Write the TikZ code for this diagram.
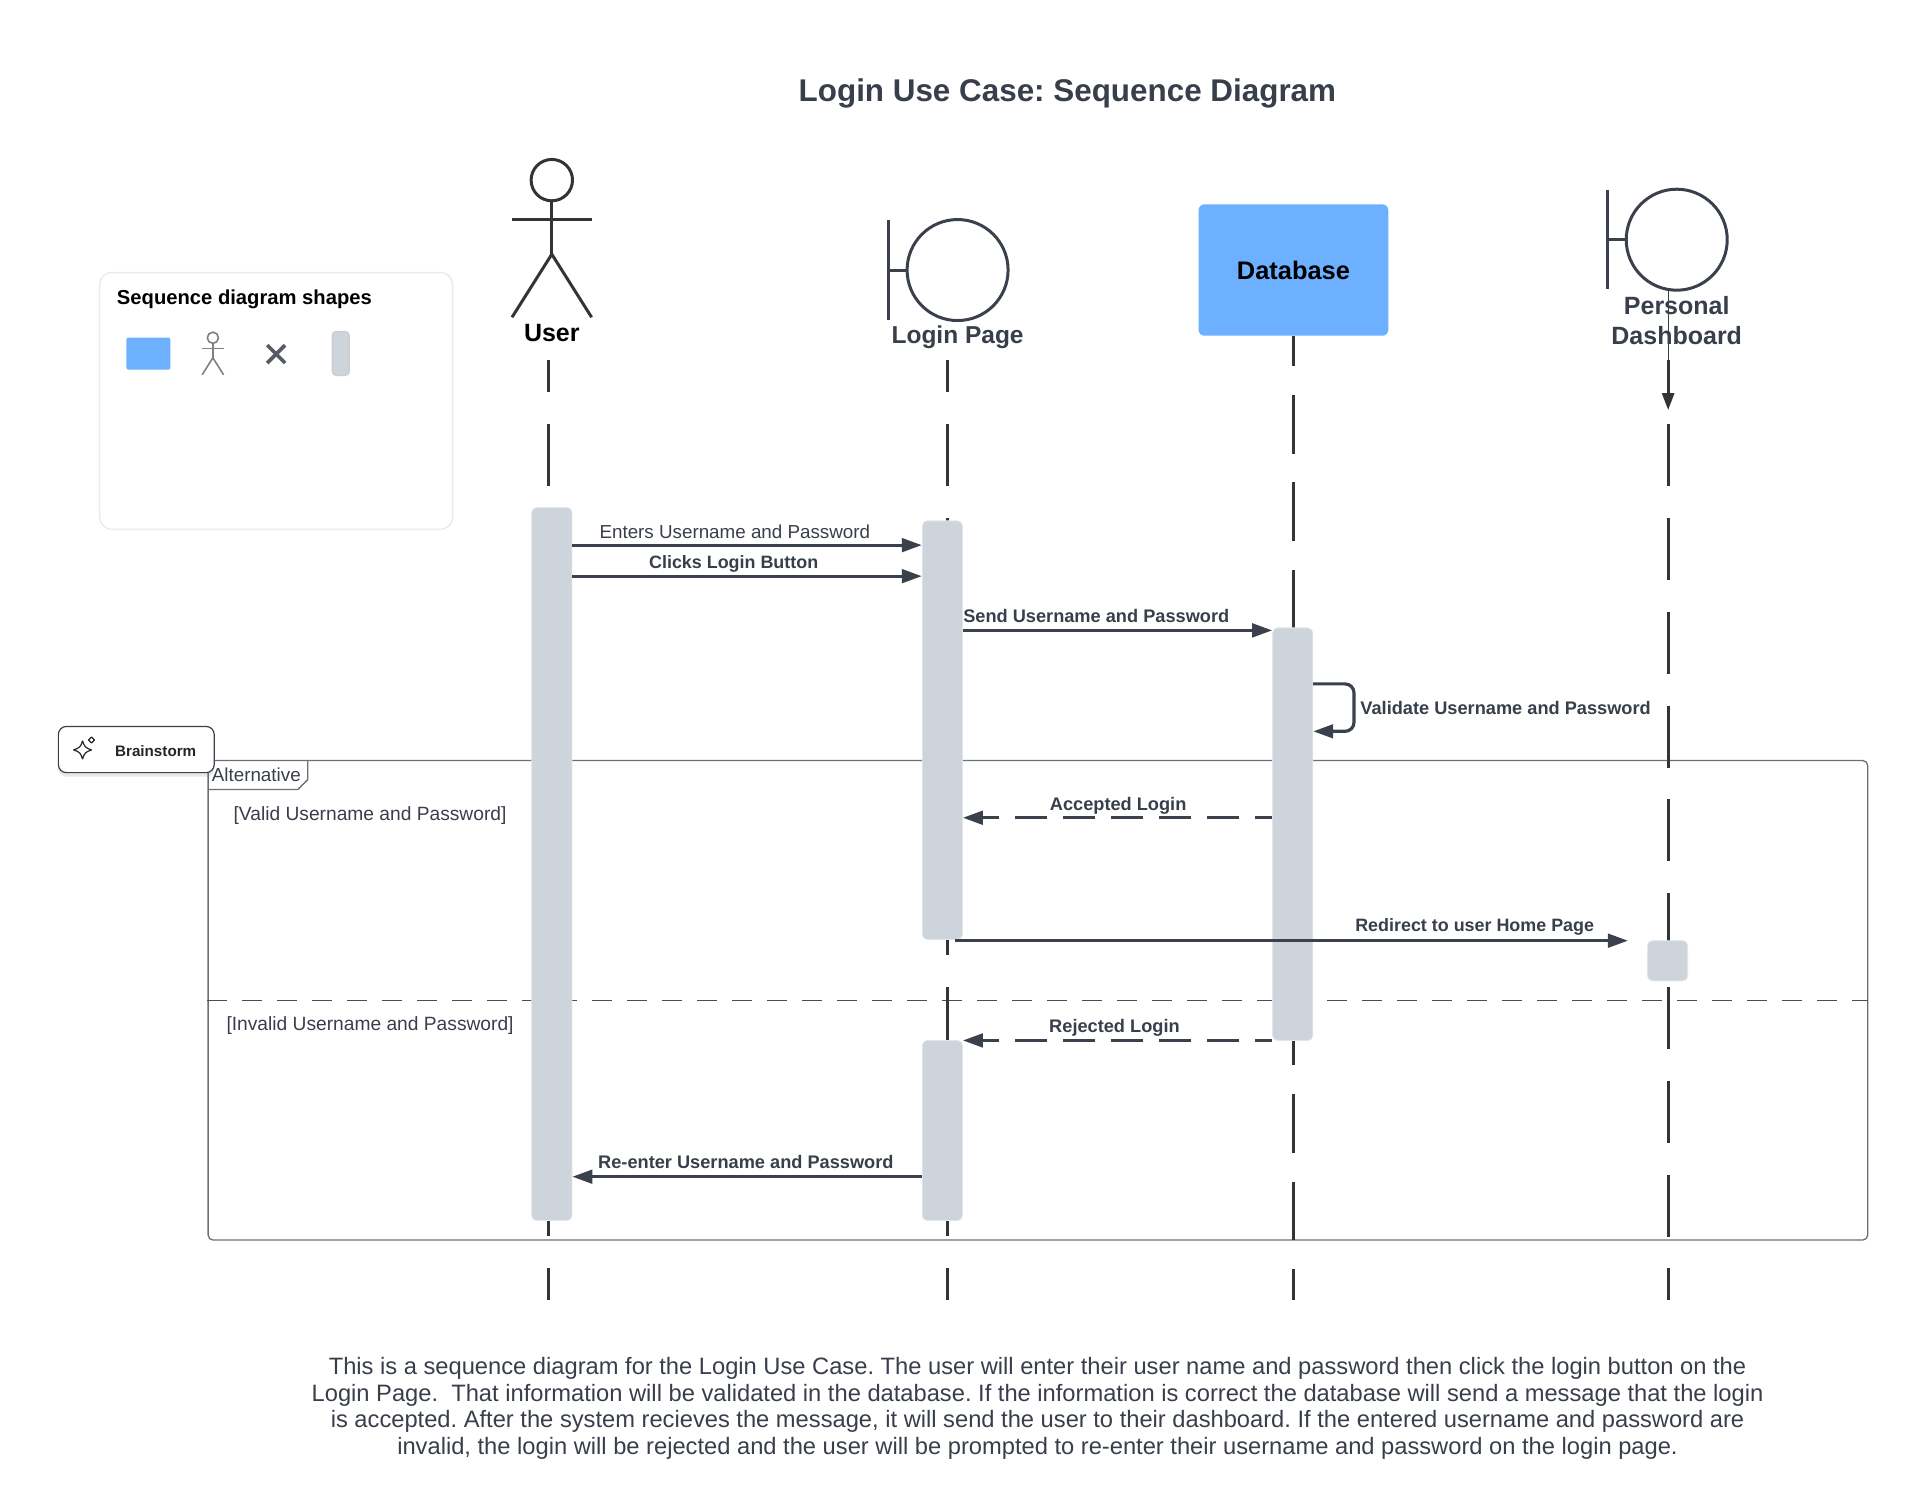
\documentclass[tikz,border=0pt]{standalone}
\usepackage{fontspec}
\setmainfont{Liberation Sans}
\usepackage{tikz}
\usetikzlibrary{arrows.meta,shadows}
\definecolor{InkDark}{HTML}{3A404C}
\definecolor{InkLine}{HTML}{333438}
\definecolor{InkText}{HTML}{383E4A}
\definecolor{FrameGrey}{HTML}{6A7078}
\definecolor{BarGrey}{HTML}{CED4DC}
\definecolor{BlueBox}{HTML}{6CB0FF}
\frenchspacing
\newcommand\fsize[1]{\fontsize{#1}{#1}\selectfont}
\newcommand\actbar[4]{% name, x, top, bottom
  \node[activ,minimum height={(#4-#3)*0.9946}] (#1) at (#2,{(#3+#4)/2}) {};
}
\newcommand\sendmsg[4]{% style, a, b, y
  \draw[#1] (#2 |- 0,#4) -- (#3 |- 0,#4);
}
\newcommand\boundary[3]{% name, circle x, circle y
  \node[circle,draw=InkDark,line width=3,minimum size=101,inner sep=0] (#1) at (#2,#3) {};
  \coordinate (#1_bartop) at (#2-69.8,#3-50);
  \coordinate (#1_barbot) at (#2-69.8,#3+50);
  \coordinate (#1_stub) at (#2-69.8,#3);
  \draw[line width=3,color=InkDark] (#1_bartop) -- (#1_barbot);
  \draw[line width=3,color=InkDark] (#1_stub) -- (#1.west);
}
\newcommand\stickman[5]{% x, top, scale, colour, width
  \begin{scope}[shift={(#1,#2)},scale=#3,line width=#5,color=#4]
    \draw (0,20.8) circle (20.8);
    \draw (0,41.6) -- (0,95.3);
    \draw (-40,60) -- (40,60);
    \draw (-40,158.7) -- (0,95.3) -- (40,158.7);
  \end{scope}
}

\begin{document}
\begin{tikzpicture}[x=0.9948pt,y=-0.9946pt]
		\tikzstyle{every path}=[line join=round]
		\tikzstyle{activ}=[rectangle,rounded corners=5,fill=BarGrey,draw=BarGrey!60!white,line width=0.8,minimum width=40.2,inner sep=0]
		\tikzstyle{msgsolid}=[-{Triangle[length=20,width=13.5]},line width=3.2,color=InkDark]
		\tikzstyle{msgdash}=[msgsolid,dash pattern=on 32 off 16,dash phase=14.3]
		\tikzstyle{lifeline}=[line width=2.8,color=InkLine]
		\tikzstyle{boldlabel}=[font=\fsize{18.2}\bfseries,text=InkText,inner sep=0]
		\tikzstyle{plainlabel}=[font=\fsize{18.8},text=InkText,inner sep=0]
		\tikzstyle{headlabel}=[font=\fsize{25}\bfseries,inner sep=0,align=center]

\useasboundingbox (0,0) rectangle (1918,1519.2);

\node[font=\fsize{31.4}\bfseries,text=InkText,inner sep=0] (title) at (1073,94) {Login Use Case: Sequence Diagram};

\node[rectangle,rounded corners=12,fill=white,draw=black!8,line width=1.5,minimum width=352.9,minimum height=256.8] (legend) at (277.6,403.1) {};
\node[font=\fsize{20.2}\bfseries,text=black,inner sep=0,anchor=west] (legend_title) at (117.4,300.5) {Sequence diagram shapes};
\node[rectangle,rounded corners=2,fill=BlueBox,minimum width=44,minimum height=32,inner sep=0] (legend_box) at (149.2,355.5) {};
\stickman{214}{334}{0.27}{black!50}{1.6}
\coordinate (legend_xa) at (268.6,347);
\coordinate (legend_xb) at (286.6,365);
\coordinate (legend_xc) at (286.6,347);
\coordinate (legend_xd) at (268.6,365);
\draw[line width=3.6,color=InkText!85] (legend_xa) -- (legend_xb);
\draw[line width=3.6,color=InkText!85] (legend_xc) -- (legend_xd);
\node[rectangle,rounded corners=4,fill=BarGrey,draw=black!20,line width=1.2,minimum width=17,minimum height=44,inner sep=0] (legend_bar) at (342.5,355.4) {};

\node[rectangle,rounded corners=5,draw=FrameGrey,line width=1.3,minimum width=1659.6,minimum height=479.5,inner sep=0] (alt_frame) at (1043.35,1005.75) {};
\coordinate (tab_a) at (209.2,793.8);
\coordinate (tab_b) at (299.4,793.8);
\coordinate (tab_c) at (309.4,783.8);
\coordinate (tab_d) at (309.4,764.7);
\draw[color=FrameGrey,line width=1.3] (tab_a) -- (tab_b) -- (tab_c) -- (tab_d);
\draw[color=FrameGrey!70!black,line width=1.1,dash pattern=on 20 off 15] (alt_frame.west |- 0,1005.7) -- (alt_frame.east |- 0,1005.7);
\node[plainlabel,anchor=west] (alt_label) at (212.8,779.4) {Alternative};
\node[plainlabel,font=\fsize{19.2}] (guard_valid) at (372,819.5) {[Valid Username and Password]};
\node[plainlabel,font=\fsize{19.2}] (guard_invalid) at (372,1031) {[Invalid Username and Password]};

\foreach \name/\xpos/\ytop/\don/\doff/\dph in {user/551/362/62/31.8/29.8,login/952.8/362/62/31.8/29.8,db/1300/337.6/58.7/28.7/28.2,pd/1676.9/426.4/62/31.8/0}
{
  \coordinate (ll_\name_top) at (\xpos,\ytop);
  \coordinate (ll_\name_bot) at (\xpos,1306.7);
  \draw[lifeline,dash pattern=on \don off \doff,dash phase=\dph] (ll_\name_top) -- (ll_\name_bot);
}

\stickman{554.7}{160.3}{1}{InkLine}{3}
\node[headlabel,text=black] (user_label) at (554.7,335) {User};

\boundary{login_head}{962.6}{271.5}
\node[headlabel,text=InkText,font=\fsize{24.5}\bfseries] (login_label) at (962.6,339) {Login Page};

\node[rectangle,rounded corners=6,fill=BlueBox,minimum width=189.8,minimum height=131.4,inner sep=0,font=\fsize{25.4}\bfseries,text=black] (db_box) at (1300.2,271.5) {Database};

\boundary{pd_head}{1685.5}{241}
\node[headlabel,text=InkText] (pd_label) at (1685.5,322.3) {Personal\\[4.4pt]Dashboard};
\coordinate (pd_thin) at (1676.9,291);
\coordinate (pd_start) at (1676.9,362);
\coordinate (pd_tip) at (1676.9,412.3);
\draw[line width=1.3,color=InkDark] (pd_thin) -- (pd_start);
\draw[-{Triangle[length=17,width=12]},lifeline] (pd_start) -- (pd_tip);

\actbar{act_user}{554.7}{510.2}{1227.2}
\actbar{act_login}{947.3}{523.7}{944.5}
\actbar{act_login_b}{947.3}{1046.1}{1227.2}
\actbar{act_db}{1299.5}{631.3}{1046.1}
\actbar{act_pd}{1676.3}{945.8}{986.2}

\sendmsg{msgsolid}{act_user.east}{act_login.west}{548.1}
\sendmsg{msgsolid}{act_user.east}{act_login.west}{579.3}
\sendmsg{msgsolid}{act_login.east}{act_db.west}{633.8}
\draw[msgsolid,rounded corners=9] (act_db.east |- 0,687.6) -- ++(41,0) -- ++(0,47.7) -- (act_db.east |- 0,735.3);
\sendmsg{msgdash}{act_db.west}{act_login.east}{822.2}
\coordinate (redirect_a) at (960,945.8);
\coordinate (redirect_b) at (1636.5,945.8);
\draw[msgsolid] (redirect_a) -- (redirect_b);
\sendmsg{msgdash}{act_db.west}{act_login_b.east}{1046.1}
\sendmsg{msgsolid}{act_login_b.west}{act_user.east}{1183.1}

\node[plainlabel] (msg_enters) at (738.7,534.6) {Enters Username and Password};
\node[boldlabel,font=\fsize{17.9}\bfseries] (msg_clicks) at (737.5,567) {Clicks Login Button};
\node[boldlabel] (msg_send) at (1102,619) {Send Username and Password};
\node[boldlabel,anchor=west] (msg_validate) at (1367.4,712) {Validate Username and Password};
\node[boldlabel] (msg_accepted) at (1124,810) {Accepted Login};
\node[boldlabel,font=\fsize{17.9}\bfseries] (msg_redirect) at (1482.4,931.5) {Redirect to user Home Page};
\node[boldlabel] (msg_rejected) at (1120.3,1033) {Rejected Login};
\node[boldlabel] (msg_reenter) at (749.8,1168.4) {Re-enter Username and Password};

\node[rectangle,rounded corners=8,fill=white,draw=InkDark,line width=1.2,minimum width=155.8,minimum height=46.2,inner sep=0,drop shadow={opacity=0.18,shadow xshift=0pt,shadow yshift=-4pt}] (brainstorm) at (137,753.6) {};
\node[font=\fsize{15.2}\bfseries,text=black!85,inner sep=0] (brainstorm_label) at (156.5,755) {Brainstorm};
\begin{scope}[shift={(83,754)},line width=1.2,color=black!85]
  \draw (0,-9) .. controls (2,-3) and (3,-2) .. (9,0) .. controls (3,2) and (2,3) .. (0,9) .. controls (-2,3) and (-3,2) .. (-9,0) .. controls (-3,-2) and (-2,-3) .. (0,-9) -- cycle;
  \draw (9,-13) -- (12,-10) -- (9,-7) -- (6,-10) -- cycle;
\end{scope}

\node[font=\fsize{23.7},text=InkText,inner sep=0,align=center] (summary) at (1043,1416) {This is a sequence diagram for the Login Use Case. The user will enter their user name and password then click the login button on the\\[3.2pt]
Login Page.\ \ That information will be validated in the database. If the information is correct the database will send a message that the login\\[3.2pt]
is accepted. After the system recieves the message, it will send the user to their dashboard. If the entered username and password are\\[3.2pt]
invalid, the login will be rejected and the user will be prompted to re-enter their username and password on the login page.};

\end{tikzpicture}
\end{document}
